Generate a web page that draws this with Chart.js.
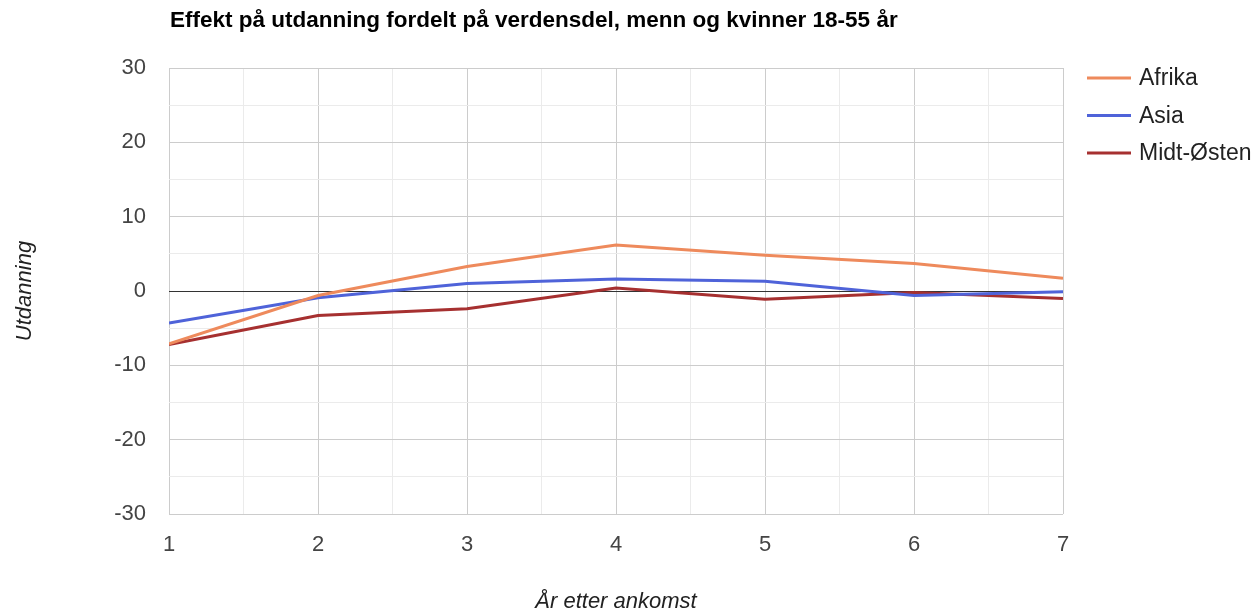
<!DOCTYPE html>
<html>
<head>
<meta charset="utf-8">
<script src="https://cdn.jsdelivr.net/npm/chart.js@4.4.1/dist/chart.umd.min.js"></script>
<style>
  html, body { margin: 0; padding: 0; background: #fff; }
  #wrap { width: 1258px; height: 615px; }
</style>
</head>
<body>
<div id="wrap"><canvas id="line-chart" width="1258" height="615"></canvas></div>
<script>
const years = [1, 2, 3, 4, 5, 6, 7];
const afrika = [-7.1, -0.6, 3.3, 6.2, 4.8, 3.7, 1.7];
const asia = [-4.3, -0.9, 1.0, 1.6, 1.3, -0.6, -0.1];
const midtOsten = [-7.2, -3.3, -2.4, 0.4, -1.1, -0.2, -1.0];
const seriesNames = ["Afrika", "Asia", "Midt-Østen"];
const seriesColors = ["#ee8a5c", "#4f63d9", "#a63030"];

const titleText = "Effekt på utdanning fordelt på verdensdel, menn og kvinner 18-55 år";
const xTitle = "År etter ankomst";
const yTitle = "Utdanning";

const FONT = "Arial, 'Liberation Sans', sans-serif";
const toPoints = (vals) => vals.map((v, i) => ({ x: years[i], y: v }));

// title, axis titles and legend drawn by hand to sit like the original
const extras = {
  id: "extras",
  afterDraw(chart) {
    const { ctx, chartArea } = chart;
    ctx.save();
    ctx.fillStyle = "#000";
    ctx.font = "bold 22.5px " + FONT;
    ctx.textAlign = "left";
    ctx.textBaseline = "alphabetic";
    ctx.fillText(titleText, chartArea.left + 1, 27);

    ctx.fillStyle = "#222";
    ctx.font = "italic 22px " + FONT;
    ctx.textAlign = "center";
    ctx.textBaseline = "middle";
    ctx.fillText(xTitle, (chartArea.left + chartArea.right) / 2, 602);

    ctx.translate(25, (chartArea.top + chartArea.bottom) / 2);
    ctx.rotate(-Math.PI / 2);
    ctx.fillText(yTitle, 0, 0);
    ctx.restore();

    ctx.save();
    ctx.font = "23px " + FONT;
    ctx.textAlign = "left";
    ctx.textBaseline = "middle";
    chart.data.datasets.forEach((ds, i) => {
      const y = 78 + i * 37.5;
      ctx.strokeStyle = ds.borderColor;
      ctx.lineWidth = 3;
      ctx.beginPath();
      ctx.moveTo(1087, y);
      ctx.lineTo(1131, y);
      ctx.stroke();
      ctx.fillStyle = "#222";
      ctx.fillText(ds.label, 1139, y + 1);
    });
    ctx.restore();
  },
};

new Chart("line-chart", {
  type: "line",
  data: {
    datasets: [afrika, asia, midtOsten].map((vals, i) => ({
      label: seriesNames[i],
      data: toPoints(vals),
      borderColor: seriesColors[i],
      backgroundColor: seriesColors[i],
      borderWidth: 3,
      pointRadius: 0,
      tension: 0,
    })),
  },
  options: {
    responsive: false,
    animation: false,
    layout: { padding: { top: 68, right: 195, left: 0, bottom: 0 } },
    plugins: {
      legend: { display: false },
      tooltip: { enabled: false },
    },
    scales: {
      x: {
        type: "linear",
        min: 1,
        max: 7,
        afterFit: (s) => { s.height = 101; },
        border: { display: false },
        grid: {
          drawTicks: false,
          color: (c) => (Number.isInteger(c.tick.value) ? "#cccccc" : "#ebebeb"),
        },
        ticks: {
          stepSize: 0.5,
          padding: 18,
          color: "#444",
          font: { family: FONT, size: 22 },
          callback: (v) => (Number.isInteger(v) ? v : ""),
        },
      },
      y: {
        min: -30,
        max: 30,
        afterFit: (s) => { s.width = 169; },
        border: { display: false },
        grid: {
          drawTicks: false,
          color: (c) => {
            const v = c.tick.value;
            if (v === 0) return "#333333";
            return v % 10 === 0 ? "#cccccc" : "#ebebeb";
          },
        },
        ticks: {
          stepSize: 5,
          padding: 23,
          color: "#444",
          font: { family: FONT, size: 22 },
          callback: (v) => (v % 10 === 0 ? v : ""),
        },
      },
    },
  },
  plugins: [extras],
});
</script>
</body>
</html>
